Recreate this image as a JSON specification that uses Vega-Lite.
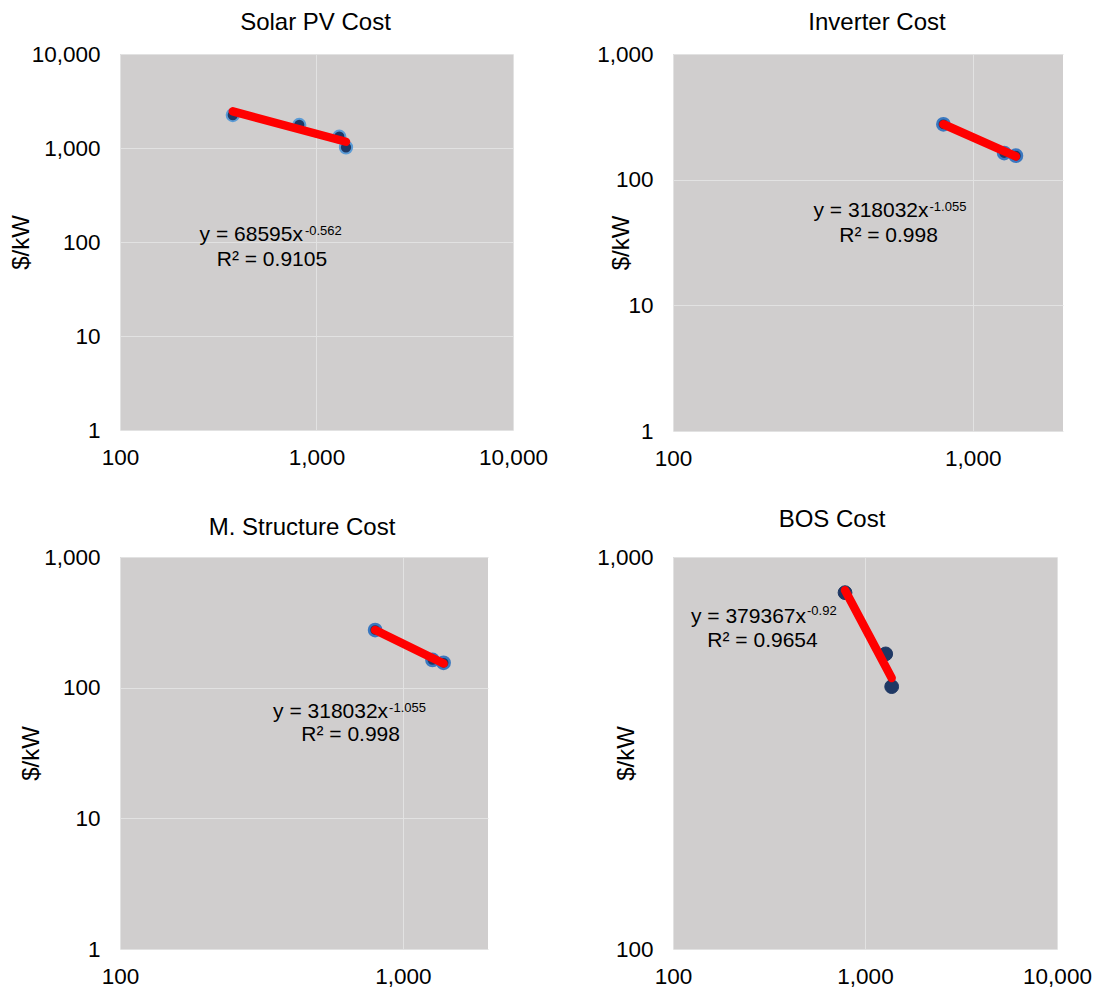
{
  "$schema": "https://vega.github.io/schema/vega-lite/v6.json",
  "autosize": {"type": "pad"},
  "padding": {"left": 9, "top": 11, "right": 5, "bottom": 5},
  "background": "#ffffff",
  "columns": 2,
  "bounds": "flush",
  "align": "all",
  "spacing": {"row": 111, "column": 160},
  "config": {
    "font": "Liberation Sans",
    "view": {"fill": "#d0cece", "stroke": null},
    "axis": {
      "domain": false,
      "ticks": false,
      "tickSize": 0,
      "grid": true,
      "gridColor": "#e2e2e2",
      "gridWidth": 1,
      "labelFont": "Liberation Sans",
      "labelFontSize": 22.5,
      "labelColor": "#000000",
      "labelFlush": false,
      "labelOverlap": false,
      "labelBound": false,
      "format": ",",
      "titleFont": "Liberation Sans",
      "titleFontSize": 24,
      "titleFontWeight": "normal",
      "titleColor": "#000000"
    },
    "axisX": {"labelPadding": 16},
    "axisY": {"labelPadding": 20, "titleBaseline": "middle"},
    "title": {"font": "Liberation Sans", "fontSize": 24, "fontWeight": "normal", "color": "#000000", "frame": "group", "baseline": "alphabetic"}
  },
  "datasets": {
    "points": [
      {"panel": "Solar PV", "capacity": 375, "cost": 2244},
      {"panel": "Solar PV", "capacity": 817, "cost": 1758},
      {"panel": "Solar PV", "capacity": 1306, "cost": 1318},
      {"panel": "Solar PV", "capacity": 1413, "cost": 1016},
      {"panel": "Inverter", "capacity": 798, "cost": 276},
      {"panel": "Inverter", "capacity": 1273, "cost": 163},
      {"panel": "Inverter", "capacity": 1393, "cost": 155},
      {"panel": "Structure", "capacity": 798, "cost": 276},
      {"panel": "Structure", "capacity": 1273, "cost": 163},
      {"panel": "Structure", "capacity": 1393, "cost": 155},
      {"panel": "BOS", "capacity": 787, "cost": 811},
      {"panel": "BOS", "capacity": 1282, "cost": 566},
      {"panel": "BOS", "capacity": 1377, "cost": 467}
    ],
    "trend": [
      {"panel": "Solar PV", "capacity": 375, "cost": 2455},
      {"panel": "Solar PV", "capacity": 1413, "cost": 1165},
      {"panel": "Inverter", "capacity": 798, "cost": 276},
      {"panel": "Inverter", "capacity": 1393, "cost": 153},
      {"panel": "Structure", "capacity": 798, "cost": 276},
      {"panel": "Structure", "capacity": 1393, "cost": 153},
      {"panel": "BOS", "capacity": 787, "cost": 822},
      {"panel": "BOS", "capacity": 1377, "cost": 491}
    ],
    "labels": [
      {"panel": "Solar PV", "eq": "y = 68595x", "exp": "-0.562", "r2": "R² = 0.9105"},
      {"panel": "Inverter", "eq": "y = 318032x", "exp": "-1.055", "r2": "R² = 0.998"},
      {"panel": "Structure", "eq": "y = 318032x", "exp": "-1.055", "r2": "R² = 0.998"},
      {"panel": "BOS", "eq": "y = 379367x", "exp": "-0.92", "r2": "R² = 0.9654"}
    ]
  },
  "concat": [
    {
      "width": 393,
      "height": 376,
      "title": {"text": "Solar PV Cost", "offset": 8, "dx": -1},
      "layer": [
        {
          "data": {"name": "points"},
          "transform": [{"filter": "datum.panel === 'Solar PV'"}],
          "mark": {"type": "point", "filled": true, "fill": "#1f3864", "stroke": "#5b9bd5", "strokeWidth": 2, "size": 150, "opacity": 1},
          "encoding": {
            "x": {"field": "capacity", "type": "quantitative", "scale": {"type": "log", "domain": [100, 10000], "nice": false}, "axis": {"values": [100, 1000, 10000], "title": null}},
            "y": {"field": "cost", "type": "quantitative", "scale": {"type": "log", "domain": [1, 10000], "nice": false}, "axis": {"values": [1, 10, 100, 1000, 10000], "title": "$/kW", "titleX": -99}}
          }
        },
        {
          "data": {"name": "trend"},
          "transform": [{"filter": "datum.panel === 'Solar PV'"}],
          "mark": {"type": "line", "color": "#ff0000", "strokeWidth": 8.5, "strokeCap": "round"},
          "encoding": {"x": {"field": "capacity", "type": "quantitative"}, "y": {"field": "cost", "type": "quantitative"}}
        },
        {
          "data": {"name": "labels"},
          "transform": [{"filter": "datum.panel === 'Solar PV'"}],
          "mark": {"type": "text", "align": "right", "baseline": "alphabetic", "fontSize": 21, "color": "#000000"},
          "encoding": {"x": {"datum": 853, "type": "quantitative"}, "y": {"datum": 102.5, "type": "quantitative"}, "text": {"field": "eq"}}
        },
        {
          "data": {"name": "labels"},
          "transform": [{"filter": "datum.panel === 'Solar PV'"}],
          "mark": {"type": "text", "align": "left", "baseline": "alphabetic", "fontSize": 13, "dx": 2, "dy": -6, "color": "#000000"},
          "encoding": {"x": {"datum": 853, "type": "quantitative"}, "y": {"datum": 102.5, "type": "quantitative"}, "text": {"field": "exp"}}
        },
        {
          "data": {"name": "labels"},
          "transform": [{"filter": "datum.panel === 'Solar PV'"}],
          "mark": {"type": "text", "align": "center", "baseline": "alphabetic", "fontSize": 21, "dx": -31, "dy": 25, "color": "#000000"},
          "encoding": {"x": {"datum": 853, "type": "quantitative"}, "y": {"datum": 102.5, "type": "quantitative"}, "text": {"field": "r2"}}
        }
      ]
    },
    {
      "width": 390,
      "height": 377,
      "title": {"text": "Inverter Cost", "offset": 8, "dx": 9},
      "layer": [
        {
          "data": {"name": "points"},
          "transform": [{"filter": "datum.panel === 'Inverter'"}],
          "mark": {"type": "point", "filled": true, "fill": "#1f3864", "stroke": "#3a78c0", "strokeWidth": 2.5, "size": 150, "opacity": 1},
          "encoding": {
            "x": {"field": "capacity", "type": "quantitative", "scale": {"type": "log", "domain": [100, 2000], "nice": false}, "axis": {"values": [100, 1000], "title": null}},
            "y": {"field": "cost", "type": "quantitative", "scale": {"type": "log", "domain": [1, 1000], "nice": false}, "axis": {"values": [1, 10, 100, 1000], "title": "$/kW", "titleX": -52}}
          }
        },
        {
          "data": {"name": "trend"},
          "transform": [{"filter": "datum.panel === 'Inverter'"}],
          "mark": {"type": "line", "color": "#ff0000", "strokeWidth": 8.5, "strokeCap": "round"},
          "encoding": {"x": {"field": "capacity", "type": "quantitative"}, "y": {"field": "cost", "type": "quantitative"}}
        },
        {
          "data": {"name": "labels"},
          "transform": [{"filter": "datum.panel === 'Inverter'"}],
          "mark": {"type": "text", "align": "right", "baseline": "alphabetic", "fontSize": 21, "color": "#000000"},
          "encoding": {"x": {"datum": 712, "type": "quantitative"}, "y": {"datum": 50.5, "type": "quantitative"}, "text": {"field": "eq"}}
        },
        {
          "data": {"name": "labels"},
          "transform": [{"filter": "datum.panel === 'Inverter'"}],
          "mark": {"type": "text", "align": "left", "baseline": "alphabetic", "fontSize": 13, "dx": 1, "dy": -6, "color": "#000000"},
          "encoding": {"x": {"datum": 712, "type": "quantitative"}, "y": {"datum": 50.5, "type": "quantitative"}, "text": {"field": "exp"}}
        },
        {
          "data": {"name": "labels"},
          "transform": [{"filter": "datum.panel === 'Inverter'"}],
          "mark": {"type": "text", "align": "center", "baseline": "alphabetic", "fontSize": 21, "dx": -40, "dy": 25, "color": "#000000"},
          "encoding": {"x": {"datum": 712, "type": "quantitative"}, "y": {"datum": 50.5, "type": "quantitative"}, "text": {"field": "r2"}}
        }
      ]
    },
    {
      "width": 368,
      "height": 392,
      "title": {"text": "M. Structure Cost", "offset": 6, "dx": -2},
      "layer": [
        {
          "data": {"name": "points"},
          "transform": [{"filter": "datum.panel === 'Structure'"}],
          "mark": {"type": "point", "filled": true, "fill": "#1f3864", "stroke": "#3a78c0", "strokeWidth": 2.5, "size": 150, "opacity": 1},
          "encoding": {
            "x": {"field": "capacity", "type": "quantitative", "scale": {"type": "log", "domain": [100, 2000], "nice": false}, "axis": {"values": [100, 1000], "title": null}},
            "y": {"field": "cost", "type": "quantitative", "scale": {"type": "log", "domain": [1, 1000], "nice": false}, "axis": {"values": [1, 10, 100, 1000], "title": "$/kW", "titleX": -89}}
          }
        },
        {
          "data": {"name": "trend"},
          "transform": [{"filter": "datum.panel === 'Structure'"}],
          "mark": {"type": "line", "color": "#ff0000", "strokeWidth": 8.5, "strokeCap": "round"},
          "encoding": {"x": {"field": "capacity", "type": "quantitative"}, "y": {"field": "cost", "type": "quantitative"}}
        },
        {
          "data": {"name": "labels"},
          "transform": [{"filter": "datum.panel === 'Structure'"}],
          "mark": {"type": "text", "align": "right", "baseline": "alphabetic", "fontSize": 21, "color": "#000000"},
          "encoding": {"x": {"datum": 887, "type": "quantitative"}, "y": {"datum": 59, "type": "quantitative"}, "text": {"field": "eq"}}
        },
        {
          "data": {"name": "labels"},
          "transform": [{"filter": "datum.panel === 'Structure'"}],
          "mark": {"type": "text", "align": "left", "baseline": "alphabetic", "fontSize": 13, "dx": 1, "dy": -6, "color": "#000000"},
          "encoding": {"x": {"datum": 887, "type": "quantitative"}, "y": {"datum": 59, "type": "quantitative"}, "text": {"field": "exp"}}
        },
        {
          "data": {"name": "labels"},
          "transform": [{"filter": "datum.panel === 'Structure'"}],
          "mark": {"type": "text", "align": "center", "baseline": "alphabetic", "fontSize": 21, "dx": -37.5, "dy": 23, "color": "#000000"},
          "encoding": {"x": {"datum": 887, "type": "quantitative"}, "y": {"datum": 59, "type": "quantitative"}, "text": {"field": "r2"}}
        }
      ]
    },
    {
      "width": 384,
      "height": 392,
      "title": {"text": "BOS Cost", "offset": 14, "dx": -33},
      "layer": [
        {
          "data": {"name": "points"},
          "transform": [{"filter": "datum.panel === 'BOS'"}],
          "mark": {"type": "point", "filled": true, "fill": "#1f3864", "stroke": "#1f3864", "strokeWidth": 1, "size": 190, "opacity": 1},
          "encoding": {
            "x": {"field": "capacity", "type": "quantitative", "scale": {"type": "log", "domain": [100, 10000], "nice": false}, "axis": {"values": [100, 1000, 10000], "title": null}},
            "y": {"field": "cost", "type": "quantitative", "scale": {"type": "log", "domain": [100, 1000], "nice": false}, "axis": {"values": [100, 1000], "title": "$/kW", "titleX": -47}}
          }
        },
        {
          "data": {"name": "trend"},
          "transform": [{"filter": "datum.panel === 'BOS'"}],
          "mark": {"type": "line", "color": "#ff0000", "strokeWidth": 8.5, "strokeCap": "round"},
          "encoding": {"x": {"field": "capacity", "type": "quantitative"}, "y": {"field": "cost", "type": "quantitative"}}
        },
        {
          "data": {"name": "labels"},
          "transform": [{"filter": "datum.panel === 'BOS'"}],
          "mark": {"type": "text", "align": "right", "baseline": "alphabetic", "fontSize": 21, "color": "#000000"},
          "encoding": {"x": {"datum": 493, "type": "quantitative"}, "y": {"datum": 679, "type": "quantitative"}, "text": {"field": "eq"}}
        },
        {
          "data": {"name": "labels"},
          "transform": [{"filter": "datum.panel === 'BOS'"}],
          "mark": {"type": "text", "align": "left", "baseline": "alphabetic", "fontSize": 13, "dx": 1, "dy": -8, "color": "#000000"},
          "encoding": {"x": {"datum": 493, "type": "quantitative"}, "y": {"datum": 679, "type": "quantitative"}, "text": {"field": "exp"}}
        },
        {
          "data": {"name": "labels"},
          "transform": [{"filter": "datum.panel === 'BOS'"}],
          "mark": {"type": "text", "align": "center", "baseline": "alphabetic", "fontSize": 21, "dx": -43.5, "dy": 24, "color": "#000000"},
          "encoding": {"x": {"datum": 493, "type": "quantitative"}, "y": {"datum": 679, "type": "quantitative"}, "text": {"field": "r2"}}
        }
      ]
    }
  ]
}
